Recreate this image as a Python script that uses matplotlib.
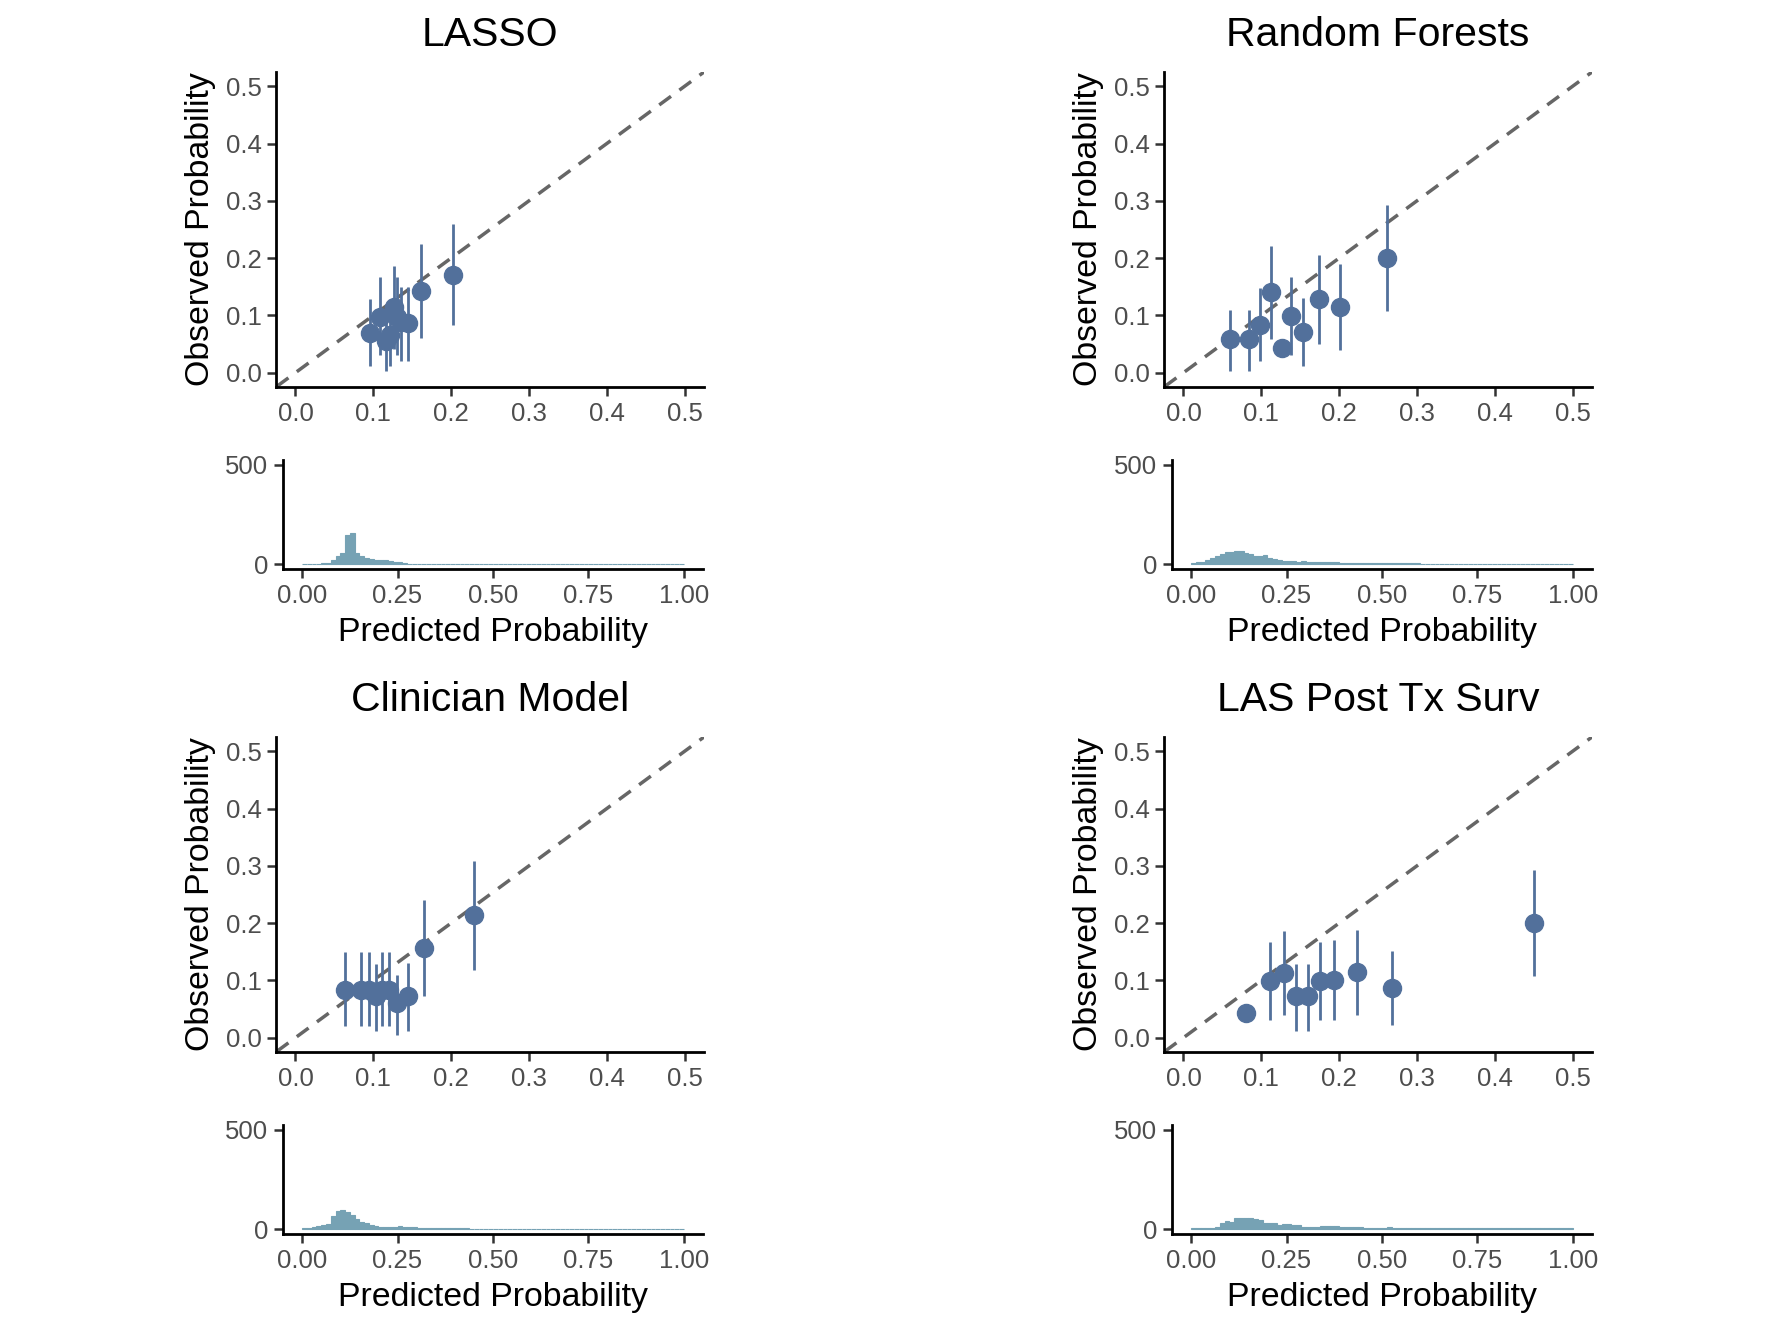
import numpy as np
import matplotlib.pyplot as plt

plt.rcParams['font.family'] = ['Liberation Sans', 'DejaVu Sans']

# calibration points per model: predicted decile mean, observed, CI low, CI high
lasso_pred = [0.096, 0.109, 0.116, 0.122, 0.127, 0.131, 0.136, 0.145, 0.161, 0.202]
lasso_obs = [0.070, 0.098, 0.056, 0.065, 0.115, 0.097, 0.088, 0.086, 0.143, 0.171]
lasso_lo = [0.012, 0.030, 0.003, 0.012, 0.042, 0.030, 0.021, 0.021, 0.061, 0.083]
lasso_hi = [0.129, 0.167, 0.110, 0.120, 0.186, 0.167, 0.150, 0.150, 0.225, 0.259]

rf_pred = [0.060, 0.084, 0.099, 0.113, 0.126, 0.138, 0.153, 0.174, 0.201, 0.261]
rf_obs = [0.058, 0.058, 0.084, 0.141, 0.043, 0.099, 0.071, 0.129, 0.114, 0.200]
rf_lo = [0.003, 0.003, 0.020, 0.059, np.nan, 0.030, 0.012, 0.050, 0.040, 0.107]
rf_hi = [0.110, 0.110, 0.148, 0.221, np.nan, 0.167, 0.131, 0.206, 0.189, 0.293]

clin_pred = [0.064, 0.084, 0.094, 0.103, 0.111, 0.120, 0.130, 0.144, 0.165, 0.229]
clin_obs = [0.084, 0.084, 0.084, 0.073, 0.084, 0.084, 0.060, 0.073, 0.157, 0.215]
clin_lo = [0.020, 0.020, 0.020, 0.012, 0.020, 0.020, 0.004, 0.012, 0.073, 0.119]
clin_hi = [0.149, 0.149, 0.149, 0.129, 0.149, 0.149, 0.110, 0.131, 0.241, 0.309]

las_pred = [0.081, 0.111, 0.129, 0.144, 0.160, 0.176, 0.194, 0.223, 0.268, 0.451]
las_obs = [0.043, 0.099, 0.113, 0.072, 0.072, 0.099, 0.101, 0.115, 0.086, 0.201]
las_lo = [np.nan, 0.030, 0.040, 0.012, 0.012, 0.030, 0.030, 0.040, 0.022, 0.107]
las_hi = [np.nan, 0.167, 0.186, 0.129, 0.129, 0.167, 0.170, 0.188, 0.151, 0.293]

# histogram of predicted probabilities, 80 bins of 0.0125 on [0, 1]
lasso_counts = [2, 2, 2, 2, 3, 5, 20, 40, 54, 146, 158, 54, 40, 29, 24, 22, 22, 18, 14, 12,
                10, 4, 2, 2, 2, 1, 1, 1, 1, 1, 1, 1, 1, 1, 1, 1, 1, 1, 1, 1,
                1, 1, 1, 1, 1, 1, 1, 1, 1, 1, 1, 1, 1, 1, 1, 1, 1, 1, 1, 1,
                1, 1, 1, 1, 1, 1, 1, 1, 1, 1, 1, 1, 1, 1, 1, 1, 1, 1, 1, 1]
rf_counts = [5, 8, 12, 18, 28, 40, 52, 62, 63, 66, 65, 57, 50, 42, 40, 44, 30, 27, 22, 17,
             13, 13, 12, 13, 12, 12, 11, 12, 11, 12, 10, 7, 6, 6, 5, 5, 4, 4, 4, 4,
             3, 3, 3, 3, 3, 3, 3, 3, 2, 2, 2, 2, 2, 2, 2, 2, 2, 2, 2, 2,
             2, 2, 2, 2, 2, 2, 2, 2, 2, 2, 2, 2, 2, 2, 2, 2, 2, 2, 2, 2]
clin_counts = [5, 6, 8, 15, 18, 24, 67, 90, 94, 86, 72, 50, 38, 28, 18, 16, 12, 12, 11, 10,
               13, 10, 8, 8, 7, 6, 5, 5, 4, 4, 3, 3, 3, 3, 3, 2, 2, 2, 2, 2,
               2, 2, 2, 2, 2, 2, 2, 2, 2, 2, 2, 2, 2, 2, 2, 2, 2, 2, 2, 2,
               2, 2, 2, 2, 2, 2, 2, 2, 2, 2, 2, 2, 2, 2, 2, 2, 2, 2, 2, 2]
las_counts = [5, 6, 6, 6, 7, 8, 30, 40, 35, 54, 56, 54, 54, 52, 45, 32, 32, 28, 22, 24,
              24, 19, 18, 12, 12, 12, 12, 13, 13, 14, 13, 12, 8, 8, 8, 8, 7, 7, 7, 7,
              7, 8, 5, 5, 5, 5, 5, 5, 5, 5, 5, 5, 5, 5, 5, 5, 5, 5, 5, 5,
              5, 5, 5, 5, 5, 5, 5, 5, 5, 5, 5, 5, 5, 5, 5, 5, 5, 5, 5, 5]
bin_edges = np.linspace(0, 1, 81)

titles = ['LASSO', 'Random Forests', 'Clinician Model', 'LAS Post Tx Surv']
preds = [lasso_pred, rf_pred, clin_pred, las_pred]
obs = [lasso_obs, rf_obs, clin_obs, las_obs]
lows = [lasso_lo, rf_lo, clin_lo, las_lo]
highs = [lasso_hi, rf_hi, clin_hi, las_hi]
counts = [lasso_counts, rf_counts, clin_counts, las_counts]

point_col = '#52709B'
hist_col = '#76A2B4'
W, H = 1776, 1332

fig = plt.figure(figsize=(W / 100, H / 100), dpi=100)


def style(ax):
    for s in ['top', 'right']:
        ax.spines[s].set_visible(False)
    for s in ['left', 'bottom']:
        ax.spines[s].set_linewidth(2.0)
        ax.spines[s].set_color('black')
    ax.tick_params(length=6.5, width=1.8, color='#333333', labelcolor='#4D4D4D',
                   labelsize=18.5, pad=4)


# pixel boxes: left and top edges of each panel
calib_left = [276, 1164, 276, 1164]
calib_top = [72, 72, 737, 737]
hist_left = [283, 1172, 283, 1172]
hist_top = [460, 460, 1125, 1125]

for i in range(4):
    l, t = calib_left[i], calib_top[i]
    ax = fig.add_axes([l / W, 1 - (t + 315) / H, 428 / W, 315 / H])
    ax.plot([-0.05, 0.55], [-0.05, 0.55], linestyle=(0, (4.2, 3)), color='#666666',
            linewidth=2.5, zorder=1)
    lo = np.array(lows[i])
    hi = np.array(highs[i])
    ax.vlines(preds[i], lo, hi, color=point_col, linewidth=2.0, zorder=2)
    ax.plot(preds[i], obs[i], 'o', color=point_col, markersize=13, zorder=3)
    ax.set_xlim(-0.025, 0.525)
    ax.set_ylim(-0.025, 0.525)
    ax.set_xticks([0, 0.1, 0.2, 0.3, 0.4, 0.5])
    ax.set_yticks([0, 0.1, 0.2, 0.3, 0.4, 0.5])
    ax.xaxis.set_major_formatter(plt.FormatStrFormatter('%.1f'))
    ax.yaxis.set_major_formatter(plt.FormatStrFormatter('%.1f'))
    style(ax)
    ax.set_ylabel('Observed Probability', fontsize=24.4, labelpad=7)
    ax.set_title(titles[i], fontsize=29.5, pad=18.5)

    hl, ht = hist_left[i], hist_top[i]
    hx = fig.add_axes([hl / W, 1 - (ht + 109) / H, 420 / W, 109 / H])
    hx.bar(bin_edges[:-1], counts[i], width=0.0125, align='edge', color=hist_col,
           edgecolor=hist_col, linewidth=0.8)
    hx.set_xlim(-0.05, 1.05)
    hx.set_ylim(-25, 525)
    hx.set_xticks([0, 0.25, 0.5, 0.75, 1.0])
    hx.set_xticklabels(['0.00', '0.25', '0.50', '0.75', '1.00'])
    hx.set_yticks([0, 500])
    style(hx)
    hx.set_xlabel('Predicted Probability', fontsize=24.4, labelpad=7)

fig.savefig('out.png', dpi=100)
